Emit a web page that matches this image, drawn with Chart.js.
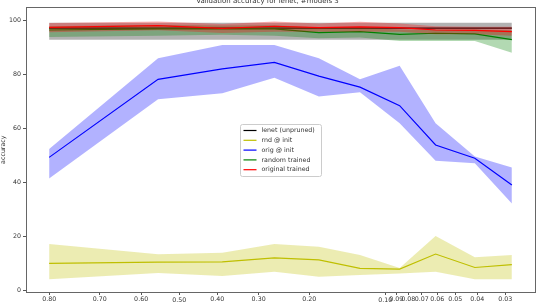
<!DOCTYPE html>
<html>
<head>
<meta charset="utf-8">
<script src="https://cdn.jsdelivr.net/npm/chart.js@4.4.0/dist/chart.umd.min.js"></script>
<style>
html, body { margin: 0; padding: 0; background: #fff; }
</style>
</head>
<body>
<canvas id="myChart" width="537" height="306"></canvas>
<script>
// fraction of weights remaining (x axis, logit scale, reversed)
var remaining = [0.8, 0.556, 0.387, 0.266, 0.184, 0.127, 0.087, 0.061, 0.041, 0.028];
var xTickValues = [0.8, 0.7, 0.6, 0.5, 0.4, 0.3, 0.2, 0.1, 0.09, 0.08, 0.07, 0.06, 0.05, 0.04, 0.03];
var majorTicks = [0.5, 0.1];
var yTickValues = [0, 20, 40, 60, 80, 100];

var lenetMean  = [97.3, 97.3, 97.3, 97.3, 97.3, 97.3, 97.3, 97.3, 97.3, 97.3];
var lenetUpper = [99.3, 99.3, 99.3, 99.3, 99.3, 99.3, 99.3, 99.3, 99.3, 99.3];
var lenetLower = [93.0, 93.0, 93.0, 93.0, 93.0, 93.0, 93.0, 93.0, 93.0, 93.0];

var rndInitMean  = [9.9, 10.4, 10.5, 12.0, 11.2, 8.1, 7.8, 13.4, 8.4, 9.5];
var rndInitUpper = [17.1, 13.3, 13.9, 17.1, 16.1, 13.0, 8.2, 20.1, 12.2, 13.0];
var rndInitLower = [4.0, 6.4, 5.2, 6.8, 5.0, 5.6, 6.2, 6.8, 4.0, 4.0];

var origInitMean  = [49.3, 78.3, 82.2, 84.6, 79.5, 75.4, 68.5, 53.9, 49.0, 39.0];
var origInitUpper = [52.4, 86.1, 91.0, 91.0, 86.1, 78.3, 83.3, 62.0, 49.6, 45.5];
var origInitLower = [41.5, 70.9, 73.1, 78.9, 71.9, 73.5, 62.0, 48.0, 47.1, 32.2];

var randTrainedMean  = [96.6, 97.0, 97.0, 97.0, 95.6, 96.0, 95.0, 95.4, 95.2, 93.0];
var randTrainedUpper = [98.0, 98.5, 98.3, 98.4, 97.5, 97.5, 96.8, 96.8, 96.8, 96.5];
var randTrainedLower = [94.0, 94.5, 94.8, 94.5, 93.5, 93.8, 92.5, 92.5, 92.5, 88.2];

var origTrainedMean  = [97.6, 98.2, 97.2, 98.0, 97.5, 97.8, 97.5, 96.6, 96.5, 96.0];
var origTrainedUpper = [99.2, 99.8, 98.8, 99.8, 99.0, 99.7, 99.0, 98.0, 97.8, 97.8];
var origTrainedLower = [95.8, 96.5, 95.5, 96.0, 96.0, 96.0, 96.0, 95.0, 95.0, 94.5];

var FONT = 'DejaVu Sans';

function logit(p) { return Math.log(p / (1 - p)); }

function pts(vals) {
    var out = [];
    for (var i = 0; i < remaining.length; i++) {
        out.push({x: logit(remaining[i]), y: vals[i]});
    }
    return out;
}

var datasets = [];
function addSeries(label, color, fillColor, mean, upper, lower, order) {
    datasets.push({label: label, data: pts(mean), borderColor: color, borderWidth: 1.2,
        pointRadius: 0, fill: false, order: order, showInLegend: true});
    datasets.push({label: label + ' upper', data: pts(upper), borderWidth: 0, pointRadius: 0,
        backgroundColor: fillColor, fill: '+1', order: order + 0.5});
    datasets.push({label: label + ' lower', data: pts(lower), borderWidth: 0, pointRadius: 0,
        fill: false, order: order + 0.5});
}

addSeries('lenet (unpruned)', '#000000', 'rgba(0,0,0,0.3)', lenetMean, lenetUpper, lenetLower, 4);
addSeries('rnd @ init', '#bfbf00', 'rgba(191,191,0,0.3)', rndInitMean, rndInitUpper, rndInitLower, 3);
addSeries('orig @ init', '#0000ff', 'rgba(0,0,255,0.3)', origInitMean, origInitUpper, origInitLower, 2);
addSeries('random trained', '#008000', 'rgba(0,128,0,0.3)', randTrainedMean, randTrainedUpper, randTrainedLower, 1);
addSeries('original trained', '#ff0000', 'rgba(255,0,0,0.3)', origTrainedMean, origTrainedUpper, origTrainedLower, 0);

var uMax = logit(remaining[0]), uMin = logit(remaining[remaining.length - 1]);
var pad = (uMax - uMin) * 0.05;

// box around the plot like matplotlib spines
var frame = {
    id: 'frame',
    afterDraw: function(chart) {
        var a = chart.chartArea, c = chart.ctx;
        c.save();
        c.strokeStyle = '#666';
        c.lineWidth = 1;
        c.strokeRect(Math.round(a.left) + 0.5, Math.round(a.top) + 0.5,
            Math.round(a.right - a.left), Math.round(a.bottom - a.top));
        c.restore();
    }
};

// legend drawn inside the plot
var legendBox = {
    id: 'legendBox',
    afterDraw: function(chart) {
        var c = chart.ctx;
        var items = chart.data.datasets.filter(function(d) { return d.showInLegend; });
        var x = 240.5, y = 124.5, w = 81, h = 52;
        c.save();
        c.fillStyle = 'rgba(255,255,255,0.85)';
        c.strokeStyle = '#cccccc';
        c.lineWidth = 1;
        c.beginPath();
        c.roundRect(x, y, w, h, 2);
        c.fill();
        c.stroke();
        c.font = '6.3px "' + FONT + '"';
        c.textBaseline = 'middle';
        c.textAlign = 'left';
        for (var i = 0; i < items.length; i++) {
            var ly = y + 6 + i * 9.8;
            c.strokeStyle = items[i].borderColor;
            c.lineWidth = 1.2;
            c.beginPath();
            c.moveTo(x + 3, ly);
            c.lineTo(x + 16, ly);
            c.stroke();
            c.fillStyle = '#333';
            c.fillText(items[i].label, x + 21, ly);
        }
        c.restore();
    }
};

var ctx = document.getElementById('myChart').getContext('2d');
var myChart = new Chart(ctx, {
    type: 'line',
    data: {datasets: datasets},
    options: {
        responsive: false,
        animation: false,
        devicePixelRatio: 1,
        layout: {padding: {left: 0, right: 2, top: 0, bottom: 0}},
        plugins: {
            legend: {display: false},
            tooltip: {enabled: false},
            title: {
                display: true,
                text: 'Validation accuracy for lenet, #models 3',
                color: '#333',
                font: {family: FONT, size: 7, weight: 'normal'},
                padding: {top: -3, bottom: 2}
            }
        },
        scales: {
            x: {
                type: 'linear',
                reverse: true,
                min: uMin - pad,
                max: uMax + pad,
                afterBuildTicks: function(scale) {
                    scale.ticks = xTickValues.map(function(v) {
                        return {value: logit(v), big: majorTicks.indexOf(v) >= 0};
                    });
                },
                afterFit: function(scale) { scale.height = 14; },
                border: {display: false},
                grid: {drawOnChartArea: false, drawTicks: true, tickLength: 3, color: '#555'},
                ticks: {
                    autoSkip: false,
                    maxRotation: 0,
                    padding: 1,
                    color: '#333',
                    font: function(c) {
                        var big = c.tick && c.tick.big;
                        return {family: FONT, size: 6.3, lineHeight: big ? 0.5 : 1.2};
                    },
                    callback: function(value, index) {
                        var p = xTickValues[index].toFixed(2);
                        return majorTicks.indexOf(xTickValues[index]) >= 0 ? ['', p] : p;
                    }
                }
            },
            y: {
                min: -0.7,
                max: 105,
                afterBuildTicks: function(scale) {
                    scale.ticks = yTickValues.map(function(v) { return {value: v}; });
                },
                afterFit: function(scale) { scale.width = 26; },
                border: {display: false},
                grid: {drawOnChartArea: false, drawTicks: true, tickLength: 3, color: '#555'},
                ticks: {color: '#333', padding: 2, font: {family: FONT, size: 6.3}},
                title: {display: true, text: 'accuracy', color: '#333', padding: 0,
                    font: {family: FONT, size: 6.3}}
            }
        }
    },
    plugins: [frame, legendBox]
});
</script>
</body>
</html>
